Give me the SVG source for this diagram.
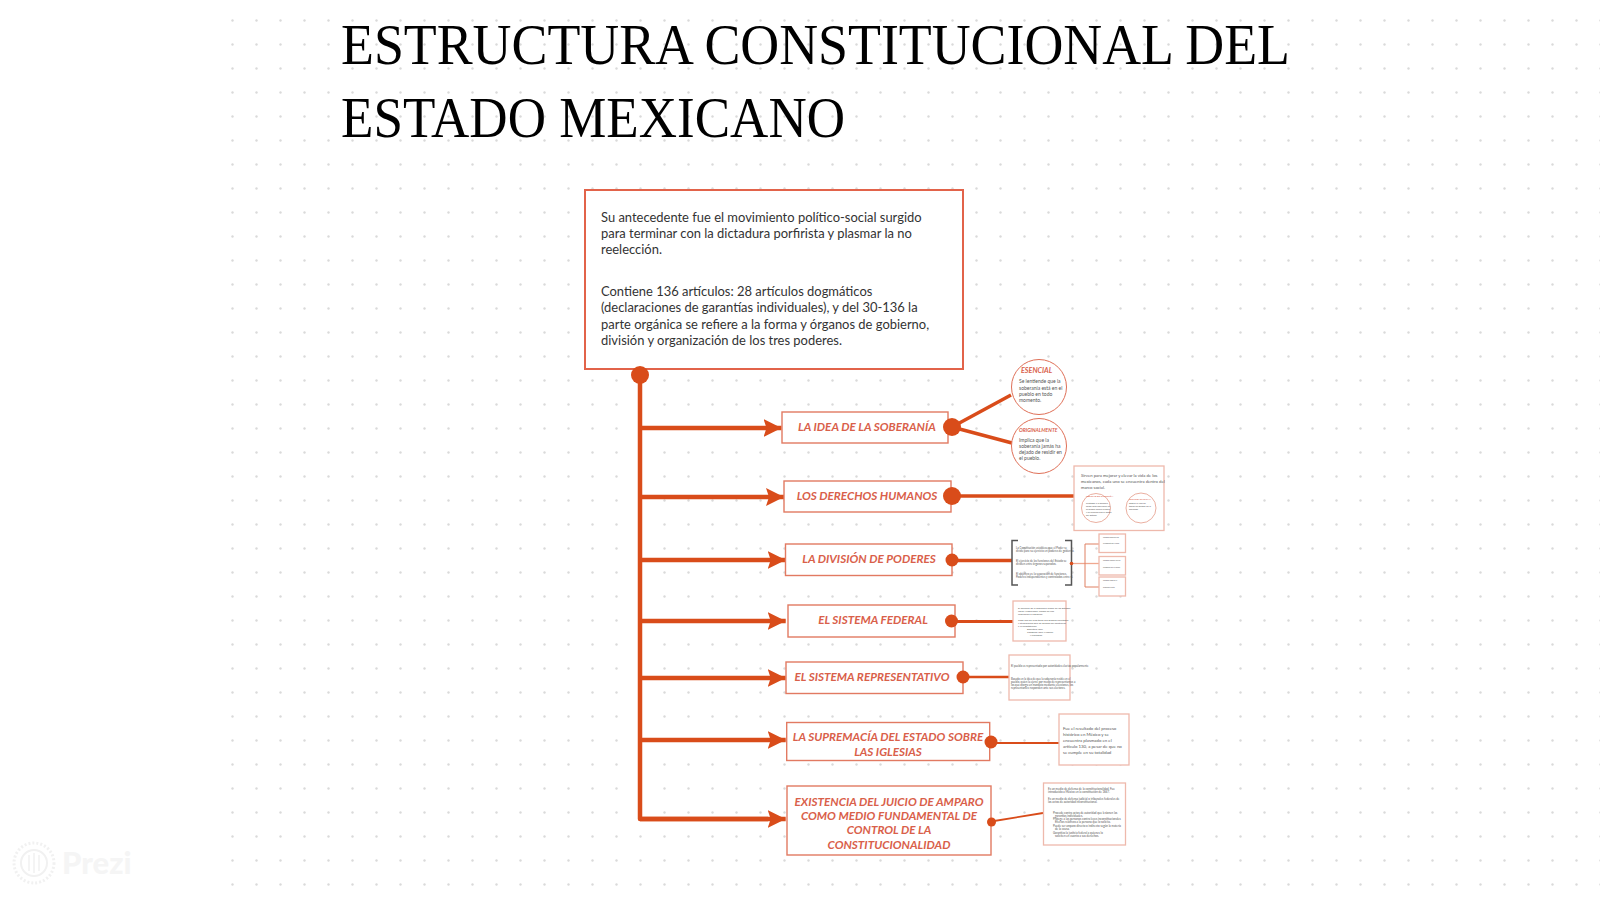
<svg xmlns="http://www.w3.org/2000/svg" width="1600" height="900" viewBox="0 0 1600 900">
<style>
.title{font-family:"Liberation Serif",serif;font-size:56.500px;fill:#000}
.body{font-family:Lato,"Open Sans",sans-serif;font-size:12.950px;fill:#333}
.h{font-family:Lato,"Open Sans",sans-serif;font-weight:700;font-style:italic;font-size:11.700px;fill:#d9604a;text-anchor:middle}
.t{font-family:Lato,"Open Sans",sans-serif;fill:#555}
.pale{fill:#fff;stroke:#eeb9ac;stroke-width:1.300}
.thin{fill:#fff;stroke:#e27a62;stroke-width:1.400}
.c{fill:none;stroke:#d94c1a}
.d{fill:#d94c1a}
</style>
<defs>
<pattern id="dots" x="231" y="19" width="24" height="24" patternUnits="userSpaceOnUse"><circle cx="1.500" cy="1.500" r="1.200" fill="#dadada"/></pattern>
<marker id="ah" markerUnits="userSpaceOnUse" markerWidth="20" markerHeight="20" refX="18" refY="9" orient="auto"><path d="M0 0L18 9L0 18L3 9Z" fill="#d94c1a"/></marker>
</defs>
<rect width="1600" height="900" fill="#fff"/>
<rect x="231" y="0" width="1369" height="900" fill="url(#dots)"/>
<g id="title"><text class="title" x="341" y="63.500" textLength="949" lengthAdjust="spacingAndGlyphs">ESTRUCTURA CONSTITUCIONAL DEL</text><text class="title" x="341" y="137" textLength="504" lengthAdjust="spacingAndGlyphs">ESTADO MEXICANO</text></g>
<g id="watermark" fill="none" stroke="#f1f1f1">
<circle cx="34" cy="863" r="20" stroke-width="3" stroke-dasharray="2 2"/><circle cx="34" cy="863" r="13" stroke-width="2"/><path d="M29 855V871M34 853V873M39 855V871" stroke-width="1.500"/>
<text x="62" y="874" font-family="Lato,sans-serif" font-weight="900" font-size="31" fill="#f5f5f5" stroke="none">Prezi</text></g>
<g id="connectors">
<path class="c" stroke-width="4.500" stroke-linejoin="round" d="M640 375V819H768"/>
<path class="c" stroke-width="4.500" marker-end="url(#ah)" d="M640 428H781.500"/>
<path class="c" stroke-width="4.500" marker-end="url(#ah)" d="M640 497H784"/>
<path class="c" stroke-width="4.500" marker-end="url(#ah)" d="M640 560H785.700"/>
<path class="c" stroke-width="4.500" marker-end="url(#ah)" d="M640 621H785.700"/>
<path class="c" stroke-width="4.500" marker-end="url(#ah)" d="M640 678H785.700"/>
<path class="c" stroke-width="4.500" marker-end="url(#ah)" d="M640 740H785.700"/>
<path class="c" stroke-width="4.500" marker-end="url(#ah)" d="M640 819H785.700"/>
<path class="c" stroke-width="3.500" d="M952 427L1011 395M952 427L1012 443"/>
<path class="c" stroke-width="3.500" d="M952 496H1074"/>
<path class="c" stroke-width="3.500" d="M952 560.500H1012"/>
<path class="c" stroke-width="3" d="M951 621.500H1013"/>
<path class="c" stroke-width="2.500" d="M963 677H1009"/>
<path class="c" stroke-width="2" d="M991 743H1059"/>
<path class="c" stroke-width="1.800" d="M991 821.500L1043 813"/>
<path fill="none" stroke="#f0a890" stroke-width="1.300" d="M1072 563.500H1100"/>
<path fill="none" stroke="#df8063" stroke-width="1" d="M1100 544H1085V587H1100"/>
</g>
<g id="intro"><rect x="585" y="190" width="378" height="179" fill="#fff" stroke="#e2634a" stroke-width="2"/>
<text class="body" x="601" y="222">Su antecedente fue el movimiento político-social surgido</text>
<text class="body" x="601" y="238">para terminar con la dictadura porfirista y plasmar la no</text>
<text class="body" x="601" y="254">reelección.</text>
<text class="body" x="601" y="296">Contiene 136 artículos: 28 artículos dogmáticos</text>
<text class="body" x="601" y="312">(declaraciones de garantías individuales), y del 30-136 la</text>
<text class="body" x="601" y="329">parte orgánica se refiere a la forma y órganos de gobierno,</text>
<text class="body" x="601" y="345">división y organización de los tres poderes.</text>
<circle class="d" cx="640" cy="375" r="9"/></g>
<g id="n1"><rect class="thin" x="782" y="412" width="166" height="31"/><text class="h" x="867" y="431">LA IDEA DE LA SOBERANÍA</text><circle class="d" cx="952" cy="427" r="9"/></g>
<g id="n2"><rect class="thin" x="784" y="481" width="167" height="31"/><text class="h" x="867" y="500">LOS DERECHOS HUMANOS</text><circle class="d" cx="952" cy="496" r="9"/></g>
<g id="n3"><rect class="thin" x="785.500" y="544" width="166.500" height="31.500"/><text class="h" x="869" y="563">LA DIVISIÓN DE PODERES</text><circle class="d" cx="952" cy="560" r="6.500"/></g>
<g id="n4"><rect class="thin" x="788" y="605" width="167" height="32"/><text class="h" x="873" y="624">EL SISTEMA FEDERAL</text><circle class="d" cx="951.500" cy="621" r="6.500"/></g>
<g id="n5"><rect class="thin" x="786" y="662" width="177" height="31.500"/><text class="h" x="872" y="681">EL SISTEMA REPRESENTATIVO</text><circle class="d" cx="963" cy="677" r="6.500"/></g>
<g id="n6"><rect class="thin" x="786.700" y="722.500" width="203" height="38"/><text class="h" x="888" y="741">LA SUPREMACÍA DEL ESTADO SOBRE</text><text class="h" x="888" y="755.500">LAS IGLESIAS</text><circle class="d" cx="991" cy="742" r="6.500"/></g>
<g id="n7"><rect class="thin" x="787" y="786" width="204" height="69"/><text class="h" x="889" y="805.500">EXISTENCIA DEL JUICIO DE AMPARO</text><text class="h" x="889" y="819.800">COMO MEDIO FUNDAMENTAL DE</text><text class="h" x="889" y="834">CONTROL DE LA</text><text class="h" x="889" y="848.500">CONSTITUCIONALIDAD</text><circle class="d" cx="991.500" cy="822" r="4.500"/></g>
<g id="esencial"><circle cx="1039" cy="387" r="27.500" fill="#fff" stroke="#df7058" stroke-width="1"/>
<text class="h" style="font-size:7.200px;text-anchor:start" x="1021" y="373">ESENCIAL</text>
<g class="t" font-size="5"><text x="1019" y="383">Se lentiende que la</text><text x="1019" y="389.500">soberanía está en el</text><text x="1019" y="395.500">pueblo en todo</text><text x="1019" y="401.500">momento.</text></g></g>
<g id="originalmente"><circle cx="1039" cy="446" r="27.500" fill="#fff" stroke="#df7058" stroke-width="1"/>
<text class="h" style="font-size:5px;text-anchor:start" x="1019" y="432">ORIGINALMENTE</text>
<g class="t" font-size="5"><text x="1019" y="441.500">Implica que la</text><text x="1019" y="447.500">soberanía jamás ha</text><text x="1019" y="453.500">dejado de residir en</text><text x="1019" y="459.500">el pueblo.</text></g></g>
<g id="d-derechos"><rect class="pale" x="1074" y="466" width="90" height="64.500"/>
<g class="t" font-size="4.250"><text x="1081" y="476.500">Sirven para mejorar y elevar la vida de los</text><text x="1081" y="482.500">mexicanos, cada uno se encuentra dentro del</text><text x="1081" y="488.500">marco social.</text></g>
<circle cx="1096" cy="508" r="14.500" fill="#fff" stroke="#e59a88" stroke-width="0.800"/><circle cx="1141" cy="508" r="15" fill="#fff" stroke="#e59a88" stroke-width="0.800"/>
<g class="t" font-size="2.300"><text x="1086" y="497" fill="#d9604a">LIBERTAD DE EXPRESIÓN</text><text x="1086" y="504">Protegen a la persona</text><text x="1086" y="507">como ente individual en</text><text x="1086" y="510">su propia esfera jurídica</text><text x="1086" y="513">y su relación con el poder</text><text x="1086" y="516">del Estado.</text><text x="1129" y="500" fill="#d9604a">SEGURIDAD SOCIAL</text><text x="1129" y="504">Regula la vida de</text><text x="1129" y="507">todos los grupos de la</text><text x="1129" y="510">sociedad.</text></g></g>
<g id="d-division"><path fill="none" stroke="#555" stroke-width="1.500" d="M1018 540.500H1012V585H1018M1065 540.500H1071.500V585H1065"/>
<g class="t" font-size="2.800"><text x="1016" y="549">La Constitución establece que el Poder se</text><text x="1016" y="552">divide para su ejercicio en poderes de gobierno.</text><text x="1016" y="562">El ejercicio de las funciones del Estado se</text><text x="1016" y="565">dividen entre órganos separados.</text><text x="1016" y="575">El objetivo es: la separación de funciones.</text><text x="1016" y="578">Poderes independientes y controlados entre sí.</text></g>
<circle class="d" cx="1071.500" cy="563.500" r="1.800"/>
<rect class="pale" x="1099" y="534" width="26.500" height="18.500"/><rect class="pale" x="1099" y="556.500" width="26.500" height="18.500"/><rect class="pale" x="1099" y="577" width="26.500" height="19"/>
<g class="t" font-size="1.800" fill="#c99"><text x="1103" y="538">PODER EJECUTIVO</text><text x="1103" y="544">Presidente de la Rep.</text><text x="1103" y="561">PODER LEGISLATIVO</text><text x="1103" y="568">Congreso de la Unión</text><text x="1103" y="581">PODER JUDICIAL</text><text x="1103" y="588">Suprema Corte</text></g></g>
<g id="d-federal"><rect class="pale" x="1013" y="601" width="53" height="40"/>
<g class="t" font-size="2.500"><text x="1018" y="609">El ejercicio de la soberanía reside en los Estados</text><text x="1018" y="612">libres y soberanos, unidos en una</text><text x="1018" y="615">federación o república.</text><text x="1018" y="621">Cada uno de ellos tiene sus propias facultades</text><text x="1018" y="624">y atribuciones que no pueden ser contrarias</text><text x="1018" y="627">a la Constitución.</text><text x="1027" y="630">Ejecutivo local</text><text x="1027" y="633">Congreso local y judicial</text><text x="1030" y="636">Municipios</text></g></g>
<g id="d-representativo"><rect class="pale" x="1009" y="655" width="61" height="45"/>
<g class="t" font-size="2.750"><text x="1011" y="667">El pueblo es representado por autoridades electas popularmente</text><text x="1011" y="680">Basado en la idea de que la soberanía reside en el</text><text x="1011" y="683">pueblo, quien la ejerce por medio de representantes a</text><text x="1011" y="686">los que otorga un mandato mediante elecciones, los</text><text x="1011" y="689">representantes responden ante sus electores.</text></g></g>
<g id="d-supremacia"><rect class="pale" x="1059" y="714" width="70" height="51"/>
<g class="t" font-size="4.350"><text x="1063" y="730">Fue el resultado del proceso</text><text x="1063" y="736">histórico en México y se</text><text x="1063" y="742">encuentra plasmado en el</text><text x="1063" y="748">artículo 130, a pesar de que no</text><text x="1063" y="753.500">se cumple en su totalidad</text></g></g>
<g id="d-amparo"><rect class="pale" x="1043.500" y="783" width="82" height="62"/>
<g class="t" font-size="2.900"><text x="1048" y="790">Es un medio de defensa de la constitucionalidad. Fue</text><text x="1048" y="793">introducido a México en la constitución de 1847.</text><text x="1048" y="800">Es un medio de defensa judicial o tribunales federales de</text><text x="1048" y="803">los actos de autoridad inconstitucional.</text><text x="1053" y="814">Procede contra actos de autoridad que lesionen las</text><text x="1055" y="817">garantías individuales.</text><text x="1053" y="820">Protege a las personas contra leyes inconstitucionales</text><text x="1055" y="823">Efectos relativos a la persona que lo solicita.</text><text x="1053" y="827">Puede ser amparo directo o indirecto según la materia</text><text x="1055" y="830">de la causa.</text><text x="1053" y="834">Garantiza la justicia federal a quienes lo</text><text x="1055" y="837">soliciten en cuanto a sus derechos.</text></g></g>
</svg>
